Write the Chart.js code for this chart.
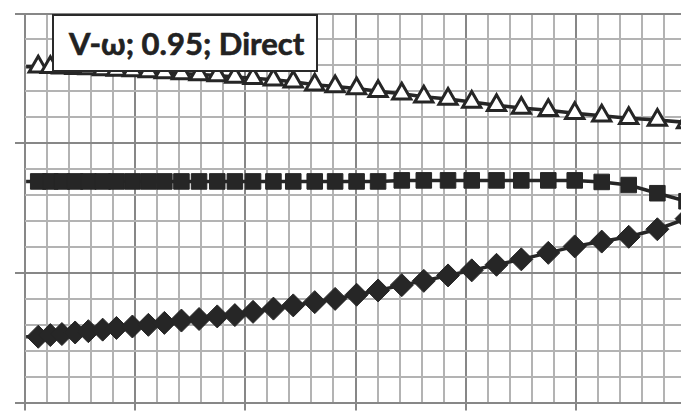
<!DOCTYPE html>
<html>
<head>
<meta charset="utf-8">
<script src="https://cdn.jsdelivr.net/npm/chart.js@4.4.1/dist/chart.umd.min.js"></script>
<style>
  html, body { margin: 0; padding: 0; overflow: hidden; background: #fff; }
  #wrap { position: relative; width: 720px; height: 416px; }
  #tag {
    position: absolute; left: 52px; top: 14px; width: 266px; height: 58px;
    box-sizing: border-box; border: 2px solid #2a2a2a; background: #fff;
    display: flex; align-items: center; padding-left: 15px;
    font: bold 31px "Lato", "Open Sans", sans-serif; color: #222; white-space: nowrap;
    -webkit-text-stroke: 0.6px #222;
  }
</style>
</head>
<body>
<div id="wrap">
  <canvas id="chart" width="720" height="416"></canvas>
  <div id="tag">V-ω; 0.95; Direct</div>
</div>
<script>
// shared x positions of all three series
const xValues = [0.1, 1.2, 2.3, 3.35, 4.55, 5.75, 7.05, 8.3, 9.75, 11.2, 12.65, 14.2, 15.8, 17.45,
  19.05, 20.7, 22.55, 24.35, 26.3, 28.15, 30.1, 32.05, 34.2, 36.2, 38.4, 40.55, 42.8, 45.05,
  47.5, 49.9, 52.35, 54.8, 57.4, 60.05];

const triangleValues = [259.0, 259.0, 258.6, 258.2, 257.8, 257.5, 256.9, 256.5, 256.0, 255.2,
  254.5, 253.7, 253.0, 252.2, 251.1, 250.0, 248.9, 247.4, 245.1, 243.7, 242.2, 240.1, 238.1,
  235.8, 234.0, 231.7, 229.3, 227.2, 225.4, 223.0, 221.1, 219.3, 217.8, 216.0];

const squareValues = [170.5, 170.5, 170.5, 170.5, 170.5, 170.5, 170.5, 170.5, 170.5, 170.5,
  170.5, 170.5, 170.5, 170.5, 170.5, 170.5, 170.5, 170.5, 170.5, 170.5, 170.5, 170.5,
  171.3, 171.3, 171.3, 171.3, 171.3, 171.3, 171.3, 171.3, 170.1, 167.7, 161.4, 155.2];

const diamondValues = [50.7, 50.7, 52.0, 52.8, 54.0, 55.0, 56.2, 57.5, 58.6, 59.9, 61.4, 63.2,
  64.4, 66.4, 67.4, 69.9, 72.4, 74.9, 77.4, 79.9, 83.1, 86.4, 90.5, 93.8, 98.0, 101.9, 106.2,
  110.4, 115.4, 120.4, 124.1, 127.8, 133.6, 141.8];

const xRange = [0, 60], xMinor = 2, xMajor = 10;
const yRange = [0, 300], yMinor = 20, yMajor = 100;

const INK = "#262626";
const MAJOR = "#878787";
const MINOR = "#b3b3b3";

function pts(ys) {
  return ys.map((y, i) => ({ x: xValues[i], y: y }));
}
function isMajor(v, step) {
  const r = v / step;
  return Math.abs(r - Math.round(r)) < 1e-6;
}
// first point only anchors the line start, no marker
function radius(r) {
  return (ctx) => (ctx.dataIndex === 0 ? 0 : r);
}

new Chart(document.getElementById("chart"), {
  type: "line",
  data: {
    datasets: [
      {
        label: "triangles",
        data: pts(triangleValues),
        borderColor: INK,
        borderWidth: 3.5,
        pointStyle: "triangle",
        pointRadius: radius(10.5),
        pointBackgroundColor: "#fff",
        pointBorderColor: INK,
        pointBorderWidth: 3,
      },
      {
        label: "squares",
        data: pts(squareValues),
        borderColor: INK,
        borderWidth: 3.5,
        pointStyle: "rect",
        pointRadius: radius(11),
        pointBackgroundColor: INK,
        pointBorderColor: INK,
        pointBorderWidth: 1,
      },
      {
        label: "diamonds",
        data: pts(diamondValues),
        borderColor: INK,
        borderWidth: 3.5,
        pointStyle: "rectRot",
        pointRadius: radius(11.5),
        pointBackgroundColor: INK,
        pointBorderColor: INK,
        pointBorderWidth: 1,
      },
    ],
  },
  options: {
    responsive: false,
    animation: false,
    layout: { padding: { left: 15, top: 6, right: 34, bottom: 0 } },
    plugins: { legend: { display: false }, tooltip: { enabled: false } },
    scales: {
      x: {
        type: "linear",
        min: xRange[0],
        max: xRange[1],
        ticks: { display: false, stepSize: xMinor, autoSkip: false },
        border: { display: false },
        grid: {
          lineWidth: 2,
          tickLength: 8,
          color: (c) => (isMajor(c.tick.value, xMajor) ? MAJOR : MINOR),
          tickColor: (c) => (isMajor(c.tick.value, xMajor) ? MAJOR : "rgba(0,0,0,0)"),
        },
      },
      y: {
        type: "linear",
        min: yRange[0],
        max: yRange[1],
        ticks: { display: false, stepSize: yMinor, autoSkip: false },
        border: { display: false },
        grid: {
          lineWidth: 2,
          tickLength: 10,
          color: (c) => (isMajor(c.tick.value, yMajor) ? MAJOR : MINOR),
          tickColor: (c) => (isMajor(c.tick.value, yMajor) ? MAJOR : "rgba(0,0,0,0)"),
        },
      },
    },
  },
});
</script>
</body>
</html>
